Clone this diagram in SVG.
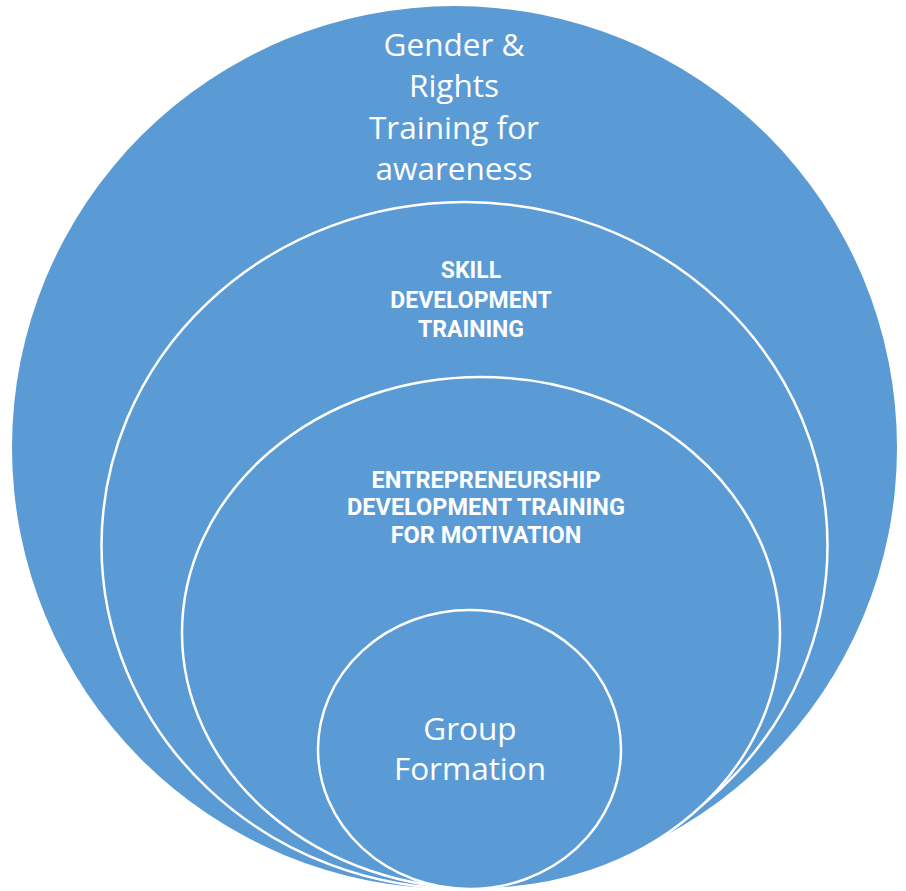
<svg xmlns="http://www.w3.org/2000/svg" width="906" height="891" viewBox="0 0 906 891">
<style>
.c{fill:#5B9BD5;stroke:#FFFFFF;stroke-width:2.5}
.o{fill:#5B9BD5;stroke:none}
.t1{font-family:"Open Sans","Noto Sans",sans-serif;font-size:31.5px;fill:#FFFFFF;text-anchor:middle}
.t2{font-family:Roboto,"Liberation Sans",sans-serif;font-weight:bold;font-size:23px;fill:#FFFFFF;text-anchor:middle}
</style>
<rect width="906" height="891" fill="#FFFFFF"/>
<g id="gender-rights">
<ellipse class="o" cx="454.5" cy="447.5" rx="442.5" ry="441.5"/>
<text class="t1" x="454" y="56">Gender &amp;</text>
<text class="t1" x="454" y="97">Rights</text>
<text class="t1" x="454" y="139">Training for</text>
<text class="t1" x="454" y="180">awareness</text>
</g>
<g id="skill-development">
<ellipse class="c" cx="464.5" cy="545.5" rx="363" ry="343.5"/>
<text class="t2" x="471" y="278">SKILL</text>
<text class="t2" x="471" y="308">DEVELOPMENT</text>
<text class="t2" x="471" y="337">TRAINING</text>
</g>
<g id="entrepreneurship">
<ellipse class="c" cx="481" cy="633" rx="299" ry="256"/>
<text class="t2" x="486" y="488" style="font-size:23.5px">ENTREPRENEURSHIP</text>
<text class="t2" x="486" y="515" style="font-size:23.5px">DEVELOPMENT TRAINING</text>
<text class="t2" x="486" y="543" style="font-size:23.5px">FOR MOTIVATION</text>
</g>
<g id="group-formation">
<ellipse class="c" cx="469.5" cy="749.5" rx="151.5" ry="139.5"/>
<text class="t1" x="470" y="740">Group</text>
<text class="t1" x="470" y="780">Formation</text>
</g>
<g id="connectors"/>
</svg>
